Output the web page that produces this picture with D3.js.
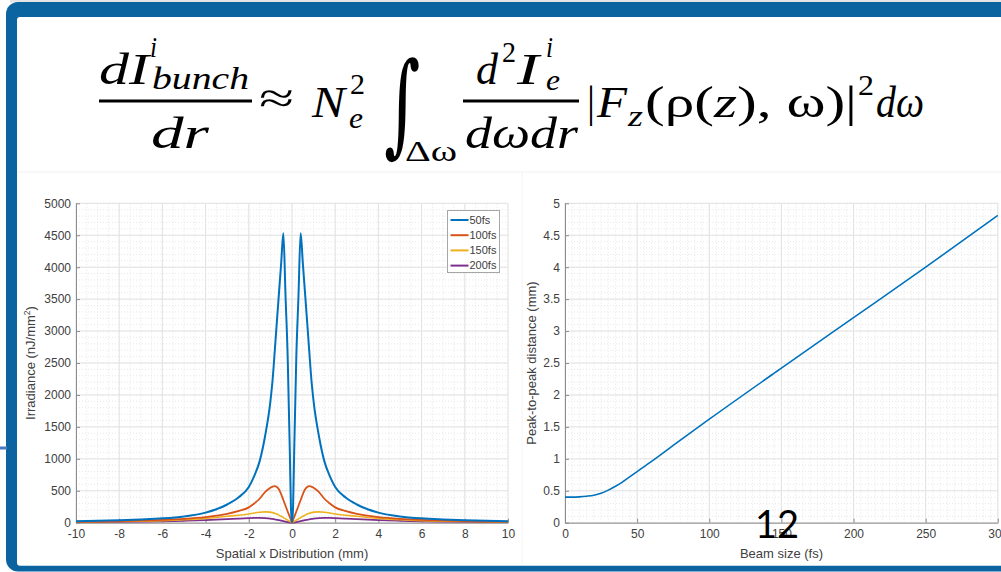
<!DOCTYPE html>
<html><head><meta charset="utf-8">
<script src="https://cdn.jsdelivr.net/npm/d3@7"></script>
<style>body{margin:0;background:#fff;overflow:hidden}svg{display:block}</style>
</head><body>
<svg id="c" width="1001" height="572"></svg>
<script>
// ---------------- data ----------------
const spatialX = [-10,-9,-8,-7,-6,-5,-4,-3.5,-3,-2.5,-2,-1.75,-1.5,-1.25,-1,-0.9,-0.8,-0.7,-0.6,-0.5,-0.4,-0.3,-0.2,-0.1,-0.05,0,
                  0.05,0.1,0.2,0.3,0.4,0.5,0.6,0.7,0.8,0.9,1,1.25,1.5,1.75,2,2.5,3,3.5,4,5,6,7,8,9,10];
const irr50  = [22,30,40,52,68,98,158,210,285,390,560,730,960,1350,1900,2230,2680,3150,3610,4070,4530,3550,2600,1100,250,0,
                250,1100,2600,3550,4530,4070,3610,3150,2680,2230,1900,1350,960,730,560,390,285,210,158,98,68,52,40,30,22];
const irr100 = [15,19,25,33,43,60,88,110,138,180,240,300,375,480,548,566,574,560,520,445,355,265,175,88,44,0,
                44,88,175,265,355,445,520,560,574,566,548,480,375,300,240,180,138,110,88,60,43,33,25,19,15];
const irr150 = [11,14,18,24,32,45,66,82,100,117,137,152,164,170,165,158,148,135,118,100,80,60,40,20,10,0,
                10,20,40,60,80,100,118,135,148,158,165,170,164,152,137,117,100,82,66,45,32,24,18,14,11];
const irr200 = [8,10,13,17,22,30,40,47,55,64,72,75,76,72,64,59,53,46,39,31,24,16,9,3,1,0,
                1,3,9,16,24,31,39,46,53,59,64,72,76,75,72,64,55,47,40,30,22,17,13,10,8];
const seriesNames = ["50fs","100fs","150fs","200fs"];
const seriesColors = ["#0072BD","#D95319","#EDB120","#7E2F8E"];

const beamSize = [0,5,10,15,20,25,30,35,40,45,50,60,75,100,150,200,250,300];
const peakDist = [0.40,0.40,0.405,0.415,0.43,0.46,0.51,0.57,0.64,0.72,0.80,0.96,1.21,1.62,2.42,3.21,4.00,4.81];

const leftXTicks  = [-10,-8,-6,-4,-2,0,2,4,6,8,10];
const leftYTicks  = [0,500,1000,1500,2000,2500,3000,3500,4000,4500,5000];
const rightXTicks = [0,50,100,150,200,250,300];
const rightYTicks = [0,0.5,1,1.5,2,2.5,3,3.5,4,4.5,5];

// ---------------- setup ----------------
const svg = d3.select("#c");
const BLUE = "#0b64a0";

// slide frame
svg.append("rect").attr("x",10).attr("y",0).attr("width",1000).attr("height",2.5).attr("fill","#e4e4e4");
svg.append("rect").attr("x",6).attr("y",2).attr("width",1100).attr("height",569.5).attr("rx",12).attr("fill",BLUE);
svg.append("rect").attr("x",17).attr("y",17).attr("width",1100).attr("height",548.7).attr("rx",3).attr("fill","#fff");
svg.append("rect").attr("x",0).attr("y",446.5).attr("width",7).attr("height",3).attr("fill","#4a78c0");
svg.append("line").attr("x1",17).attr("x2",1001).attr("y1",172).attr("y2",172).attr("stroke","#f1f1f1");
svg.append("line").attr("x1",522).attr("x2",522).attr("y1",172).attr("y2",565).attr("stroke","#f4f4f4");

// ---------------- formula ----------------
const F = svg.append("g").attr("fill","#000").attr("font-family","'Liberation Serif','DejaVu Serif',serif");
function t(txt,x,y,size,opts={}){
  const e = F.append("text").attr("x",x).attr("y",y).attr("font-size",size)
    .attr("font-style",opts.up?"normal":"italic").text(txt);
  if(opts.len){e.attr("textLength",opts.len).attr("lengthAdjust","spacingAndGlyphs");}
  if(opts.anchor) e.attr("text-anchor",opts.anchor);
  return e;
}
// first fraction
t("dI",99,84,44,{len:50});
t("i",150,57,30,{len:7});
t("bunch",152,89,31,{len:97});
F.append("rect").attr("x",99).attr("y",99.5).attr("width",153).attr("height",3);
t("dr",151,148,44,{len:58});
// approx
t("≈",259,113,44,{up:true,len:35});
// N_e^2
t("N",312,117,44,{len:33});
t("2",350,94,30,{up:true,len:15});
t("e",349,128,30,{len:14});
// integral
F.append("text").attr("font-family","'DejaVu Serif',serif").attr("font-size",112)
  .attr("transform","translate(384,142) scale(0.62,1)").text("∫");
t("Δω",405,161,30,{up:true,len:52});
// second fraction
t("d",476,84,44,{len:22});
t("2",502,62,30,{up:true,len:14});
t("I",517,84,44,{len:22});
t("i",546,57,30,{len:7});
t("e",546,90,30,{len:14});
F.append("rect").attr("x",463).attr("y",99.5).attr("width",116).attr("height",3);
t("dωdr",465,148,44,{len:113});
// |F_z(ρ(z), ω)|^2 dω
t("|",587,117,44,{up:true,len:8});
t("F",597,117,44,{len:30});
t("z",628,126,30,{len:15});
const g2 = F.append("text").attr("x",645).attr("y",117).attr("font-size",44)
  .attr("textLength",212).attr("lengthAdjust","spacingAndGlyphs");
g2.append("tspan").text("(ρ(");
g2.append("tspan").attr("font-style","italic").text("z");
g2.append("tspan").text("), ω)|");
t("2",858,95,30,{up:true,len:16});
t("dω",876,117,44,{len:48});

// ---------------- chart helpers ----------------
const FONT = "'Liberation Sans',Arial,Helvetica,sans-serif";
const TXT = "#404040";

function drawAxes(g, x, y, xMinorN, yMinorN, xTicks, yTicks, yFmt){
  const [x0,x1] = x.range(), [y0,y1] = y.range();
  // minor grid
  g.append("g").selectAll("line").data(x.ticks(xMinorN)).join("line")
    .attr("x1",d=>x(d)).attr("x2",d=>x(d)).attr("y1",y0).attr("y2",y1)
    .attr("stroke","#dcdcdc").attr("stroke-width",0.7).attr("stroke-dasharray","1,2");
  g.append("g").selectAll("line").data(y.ticks(yMinorN)).join("line")
    .attr("y1",d=>y(d)).attr("y2",d=>y(d)).attr("x1",x0).attr("x2",x1)
    .attr("stroke","#dcdcdc").attr("stroke-width",0.7).attr("stroke-dasharray","1,2");
  // major grid
  g.append("g").selectAll("line").data(xTicks).join("line")
    .attr("x1",d=>x(d)).attr("x2",d=>x(d)).attr("y1",y0).attr("y2",y1)
    .attr("stroke","#e2e2e2").attr("stroke-width",1);
  g.append("g").selectAll("line").data(yTicks).join("line")
    .attr("y1",d=>y(d)).attr("y2",d=>y(d)).attr("x1",x0).attr("x2",x1)
    .attr("stroke","#e2e2e2").attr("stroke-width",1);
  // axes
  const ax = g.append("g").attr("transform",`translate(0,${y0})`)
    .call(d3.axisBottom(x).tickValues(xTicks).tickSizeInner(-4).tickSizeOuter(0).tickPadding(7).tickFormat(d3.format("")));
  const ay = g.append("g").attr("transform",`translate(${x0},0)`)
    .call(d3.axisLeft(y).tickValues(yTicks).tickSizeInner(-4).tickSizeOuter(0).tickPadding(5).tickFormat(yFmt));
  [ax,ay].forEach(a=>{
    a.select(".domain").attr("stroke","#8c8c8c");
    a.selectAll(".tick line").attr("stroke","#8c8c8c");
    a.selectAll("text").attr("fill",TXT).attr("font-size",12).attr("font-family",FONT);
  });
  ax.selectAll("text").attr("dy","0.71em");
}

// ---------------- left chart ----------------
const xL = d3.scaleLinear().domain([-10,10]).range([76,508]);
const yL = d3.scaleLinear().domain([0,5000]).range([522.7,203.3]);
const gL = svg.append("g");
drawAxes(gL, xL, yL, 40, 50, leftXTicks, leftYTicks, d3.format(""));
gL.selectAll(".tick text").filter(function(){return this.textContent.startsWith("−");})
  .text(function(){return "-"+this.textContent.slice(1);});

const leftSeries = [irr50, irr100, irr150, irr200];
const lineSm  = d3.line().x((d,i)=>xL(spatialX[i])).y(d=>yL(d)).curve(d3.curveMonotoneX);
const widths = [2,1.8,1.6,1.8];
leftSeries.slice().reverse().forEach((s,ri)=>{
  const i = leftSeries.length-1-ri;
  gL.append("path").attr("d",lineSm(s)).attr("fill","none")
    .attr("stroke",seriesColors[i]).attr("stroke-width",widths[i]).attr("stroke-linejoin","round");
});

// legend
const lg = gL.append("g");
lg.append("rect").attr("x",447.5).attr("y",210.5).attr("width",52).attr("height",62)
  .attr("fill","#fff").attr("stroke","#a6a6a6").attr("stroke-width",1);
seriesNames.forEach((n,i)=>{
  const yy = 220 + i*15.2;
  lg.append("line").attr("x1",450.5).attr("x2",468.5).attr("y1",yy).attr("y2",yy)
    .attr("stroke",seriesColors[i]).attr("stroke-width",2);
  lg.append("text").attr("x",469.5).attr("y",yy).attr("dy","0.35em").attr("font-size",11)
    .attr("font-family",FONT).attr("fill",TXT).text(n);
});

// labels
gL.append("text").attr("x",(76+508)/2).attr("y",558).attr("text-anchor","middle")
  .attr("font-size",13).attr("font-family",FONT).attr("fill",TXT).text("Spatial x Distribution (mm)");
const yl = gL.append("text").attr("transform",`translate(35,${(203.3+522.7)/2}) rotate(-90)`)
  .attr("text-anchor","middle").attr("font-size",13).attr("font-family",FONT).attr("fill",TXT);
yl.append("tspan").text("Irradiance (nJ/mm");
yl.append("tspan").attr("font-size",8.5).attr("dy",-5).text("2");
yl.append("tspan").attr("dy",5).text(")");

// ---------------- right chart ----------------
const xR = d3.scaleLinear().domain([0,300]).range([565,997.8]);
const yR = d3.scaleLinear().domain([0,5]).range([522.7,203.3]);
const gR = svg.append("g");
drawAxes(gR, xR, yR, 60, 50, rightXTicks, rightYTicks, d => String(d));
gR.append("path").attr("d", d3.line().x((d,i)=>xR(beamSize[i])).y(d=>yR(d)).curve(d3.curveMonotoneX)(peakDist))
  .attr("fill","none").attr("stroke",seriesColors[0]).attr("stroke-width",1.6);
gR.append("text").attr("x",781.5).attr("y",558).attr("text-anchor","middle")
  .attr("font-size",13).attr("font-family",FONT).attr("fill",TXT).text("Beam size (fs)");
gR.append("text").attr("transform",`translate(536,${(203.3+522.7)/2}) rotate(-90)`)
  .attr("text-anchor","middle").attr("font-size",13).attr("font-family",FONT).attr("fill",TXT)
  .text("Peak-to-peak distance (mm)");

// slide number
svg.append("text").attr("x",777).attr("y",538).attr("text-anchor","middle")
  .attr("font-family","Lato,'Open Sans',sans-serif").attr("font-size",38).attr("fill","#000").text("12");
</script>
</body></html>
